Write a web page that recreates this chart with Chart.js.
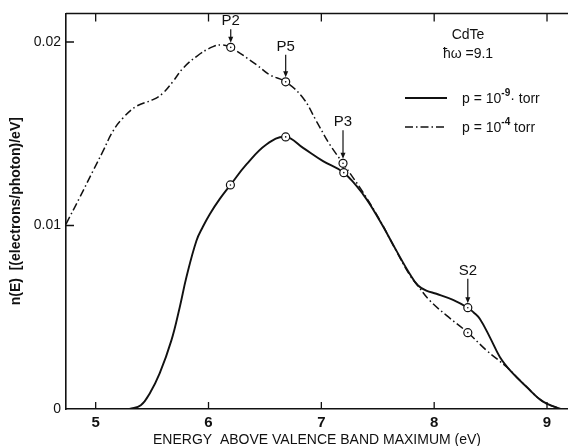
<!DOCTYPE html>
<html>
<head>
<meta charset="utf-8">
<script src="https://cdn.jsdelivr.net/npm/chart.js@4.4.1/dist/chart.umd.min.js"></script>
<style>
  html, body { margin: 0; padding: 0; background: #fff; }
  #wrap { width: 568px; height: 446px; position: relative; }
</style>
</head>
<body>
<div id="wrap"><canvas id="yieldCanvas"></canvas></div>
<script>
// CdTe energy distribution, hw = 9.1 eV, clean vs. exposed surface
const cleanEnergy = [5.30, 5.40, 5.479, 5.567, 5.671, 5.745, 5.804, 5.893, 5.95, 6.011, 6.10, 6.194, 6.336, 6.513,
  6.684, 6.838, 7.015, 7.199, 7.37, 7.518, 7.665, 7.784, 7.857, 7.93, 8.02, 8.167, 8.298, 8.35, 8.404, 8.493,
  8.582, 8.685, 8.818, 8.965, 9.12];
const cleanYield = [0, 0.0002, 0.00085, 0.00194, 0.00374, 0.00555, 0.00718, 0.00917, 0.00993, 0.01062, 0.01145,
  0.01221, 0.01333, 0.01442, 0.01483, 0.01423, 0.01351, 0.01288, 0.0117, 0.01026, 0.00863, 0.00736, 0.00673,
  0.00645, 0.00628, 0.00595, 0.00552, 0.00526, 0.00492, 0.00392, 0.00284, 0.00202, 0.00121, 0.0004, 0];

const exposedEnergy = [4.737, 4.858, 4.976, 5.065, 5.153, 5.242, 5.361, 5.508, 5.597, 5.685, 5.774, 5.893, 6.04,
  6.129, 6.197, 6.425, 6.543, 6.684, 6.838, 6.957, 7.074, 7.192, 7.37, 7.518, 7.665, 7.784, 7.857, 7.961,
  8.109, 8.298, 8.463, 8.64, 8.818, 8.965, 9.12];
const exposedYield = [0.01008, 0.01152, 0.01297, 0.01405, 0.01514, 0.01586, 0.0165, 0.01686, 0.01722, 0.01785,
  0.01857, 0.01921, 0.01975, 0.01984, 0.01971, 0.01876, 0.01821, 0.01783, 0.01695, 0.01568, 0.01442, 0.01339,
  0.0118, 0.0103, 0.0086, 0.0073, 0.0067, 0.00591, 0.0051, 0.00416, 0.0032, 0.0023, 0.00121, 0.0004, 0];

// circled points on each curve
const cleanMarks = [6.194, 6.684, 7.199, 8.298];
const exposedMarks = [6.197, 6.684, 7.192, 8.298];

// arrowed peak labels: name, curve (0 clean, 1 exposed), energy
const peakNames = ["P2", "P5", "P3", "S2"];
const peakCurve = [1, 1, 1, 0];
const peakEnergy = [6.197, 6.684, 7.192, 8.298];

const xTicks = [5, 6, 7, 8, 9];
const yTicks = [0, 0.01, 0.02];
const yTickLabels = ["0", "0.01", "0.02"];

const seriesNames = ["p = 10|-9|\u00b7 torr", "p = 10|-4| torr"];

const FONT = "'Liberation Sans', Arial, sans-serif";
const INK = "#111";

function zip(xs, ys) {
  return xs.map((x, i) => ({ x: x, y: ys[i] }));
}

function markRadius(marks) {
  return ctx => (ctx.raw && marks.includes(ctx.raw.x)) ? 4 : 0;
}

// frame, inward ticks, peak arrows and the text block in the corner
const decorations = {
  id: "decorations",
  afterDatasetsDraw(chart) {
    const ctx = chart.ctx;
    // centre dots in the circled points
    ctx.save();
    ctx.fillStyle = INK;
    chart.data.datasets.forEach((ds, di) => {
      const marks = di === 0 ? cleanMarks : exposedMarks;
      chart.getDatasetMeta(di).data.forEach((pt, i) => {
        if (marks.includes(ds.data[i].x)) {
          ctx.beginPath();
          ctx.arc(pt.x, pt.y, 0.8, 0, Math.PI * 2);
          ctx.fill();
        }
      });
    });
    ctx.restore();
  },
  afterDraw(chart) {
    const ctx = chart.ctx;
    const area = chart.chartArea;
    const xs = chart.scales.x;
    const ys = chart.scales.y;
    ctx.save();
    ctx.strokeStyle = INK;
    ctx.fillStyle = INK;
    ctx.lineWidth = 1.5;

    // top edge of the frame
    ctx.beginPath();
    ctx.moveTo(area.left, area.top);
    ctx.lineTo(area.right, area.top);
    ctx.stroke();

    ctx.lineWidth = 1.3;
    ctx.beginPath();
    xTicks.forEach(v => {
      const px = xs.getPixelForValue(v);
      ctx.moveTo(px, area.bottom);
      ctx.lineTo(px, area.bottom - 7);
      ctx.moveTo(px, area.top);
      ctx.lineTo(px, area.top + 8);
    });
    yTicks.forEach(v => {
      if (v === 0) return;
      const py = ys.getPixelForValue(v);
      ctx.moveTo(area.left, py);
      ctx.lineTo(area.left + 8, py);
    });
    ctx.stroke();

    // peak labels with arrows
    const rise = { P2: 26, P5: 35, P3: 41, S2: 37 };
    ctx.font = "15px " + FONT;
    ctx.textAlign = "center";
    ctx.textBaseline = "middle";
    peakNames.forEach((name, k) => {
      const di = peakCurve[k];
      const xsArr = di === 0 ? cleanEnergy : exposedEnergy;
      const idx = xsArr.indexOf(peakEnergy[k]);
      const pt = chart.getDatasetMeta(di).data[idx];
      const cx = pt.x, cy = pt.y;
      const ty = cy - rise[name];
      ctx.fillText(name, cx, ty);
      const top = ty + 8, tip = cy - 4.5;
      ctx.lineWidth = 1.2;
      ctx.beginPath();
      ctx.moveTo(cx, top);
      ctx.lineTo(cx, tip - 4);
      ctx.stroke();
      ctx.beginPath();
      ctx.moveTo(cx - 2.5, tip - 6);
      ctx.lineTo(cx + 2.5, tip - 6);
      ctx.lineTo(cx, tip);
      ctx.closePath();
      ctx.fill();
    });

    // sample and photon energy
    ctx.font = "14px " + FONT;
    ctx.fillText("CdTe", 468, 35);
    ctx.fillText("\u0127\u03c9 =9.1", 468, 54);

    // legend
    chart.data.datasets.forEach((ds, di) => {
      const ly = di === 0 ? 98 : 127;
      ctx.save();
      ctx.lineWidth = ds.borderWidth;
      ctx.setLineDash(ds.borderDash || []);
      ctx.beginPath();
      ctx.moveTo(405, ly);
      ctx.lineTo(447, ly);
      ctx.stroke();
      ctx.restore();

      const parts = seriesNames[di].split("|");
      let x = 462;
      ctx.textAlign = "left";
      ctx.textBaseline = "alphabetic";
      ctx.font = "14px " + FONT;
      ctx.fillText(parts[0], x, ly + 5);
      x += ctx.measureText(parts[0]).width;
      ctx.font = "bold 10px " + FONT;
      ctx.fillText(parts[1], x, ly - 2);
      x += ctx.measureText(parts[1]).width;
      ctx.font = "14px " + FONT;
      ctx.fillText(parts[2], x, ly + 5);
    });
    ctx.restore();
  }
};

new Chart(document.getElementById("yieldCanvas"), {
  type: "line",
  data: {
    datasets: [{
      label: "p = 10^-9 torr",
      data: zip(cleanEnergy, cleanYield),
      borderColor: INK,
      borderWidth: 1.9,
      pointRadius: markRadius(cleanMarks),
      pointBackgroundColor: "#fff",
      pointBorderColor: INK,
      pointBorderWidth: 1.2,
      tension: 0.4,
      fill: false
    }, {
      label: "p = 10^-4 torr",
      data: zip(exposedEnergy, exposedYield),
      borderColor: INK,
      borderWidth: 1.5,
      borderDash: [8, 3, 1.5, 3],
      pointRadius: markRadius(exposedMarks),
      pointBackgroundColor: "#fff",
      pointBorderColor: INK,
      pointBorderWidth: 1.2,
      tension: 0.4,
      fill: false
    }]
  },
  options: {
    responsive: true,
    maintainAspectRatio: false,
    animation: false,
    events: [],
    layout: { padding: { top: 12, right: 0, bottom: 0, left: 0 } },
    plugins: {
      legend: { display: false },
      tooltip: { enabled: false }
    },
    scales: {
      x: {
        type: "linear",
        min: 4.737,
        max: 9.186,
        afterBuildTicks: s => { s.ticks = xTicks.map(v => ({ value: v })); },
        afterFit: s => { s.height = 37; },
        grid: { display: false, drawTicks: false },
        border: { display: true, color: INK, width: 1.6 },
        ticks: {
          color: INK,
          padding: 5,
          maxRotation: 0,
          font: { family: FONT, size: 15, weight: "bold" },
          callback: v => String(v)
        },
        title: {
          display: true,
          text: "ENERGY  ABOVE VALENCE BAND MAXIMUM (eV)",
          color: INK,
          font: { family: FONT, size: 14, lineHeight: 1 },
          padding: { top: 0, bottom: -1 }
        }
      },
      y: {
        min: 0,
        max: 0.02156,
        afterBuildTicks: s => { s.ticks = yTicks.map(v => ({ value: v })); },
        afterFit: s => { s.width = 66; },
        grid: { display: false, drawTicks: false },
        border: { display: true, color: INK, width: 1.6 },
        ticks: {
          color: INK,
          padding: 5,
          font: { family: FONT, size: 14 },
          callback: v => yTickLabels[yTicks.indexOf(v)]
        },
        title: {
          display: true,
          text: "n(E)  [(electrons/photon)/eV]",
          color: INK,
          font: { family: FONT, size: 14, weight: "bold" },
          padding: { top: 8, bottom: 0 }
        }
      }
    }
  },
  plugins: [decorations]
});
</script>
</body>
</html>
